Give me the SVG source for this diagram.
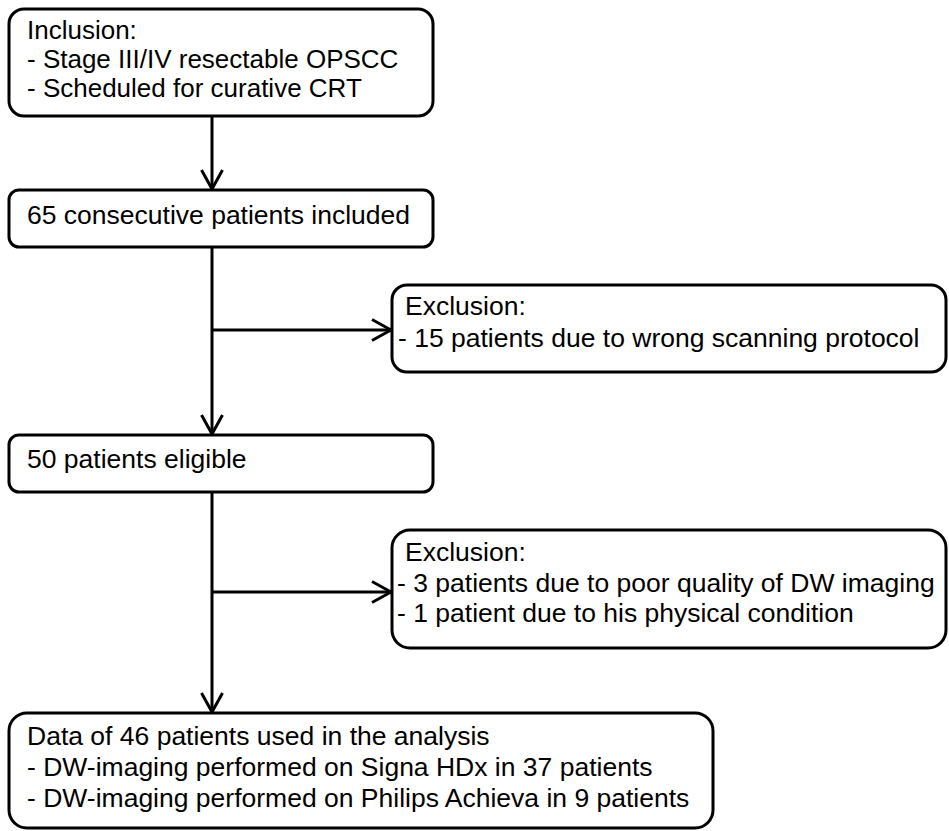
<svg xmlns="http://www.w3.org/2000/svg" width="949" height="831" viewBox="0 0 949 831">
<defs>
<style>
.box{fill:#fff;stroke:#000;stroke-width:3}
.t{font-family:"Liberation Sans",Arial,sans-serif;font-size:26.5px;fill:#000}
.t1{font-size:26px}
.c{fill:none;stroke:#000;stroke-width:3}
</style>
<marker id="arr" viewBox="0 0 24 24" markerWidth="24" markerHeight="24" refX="21" refY="12" orient="auto" markerUnits="userSpaceOnUse">
<path d="M2,1.5 L21,12 L2,22.5" fill="none" stroke="#000" stroke-width="3"/>
</marker>
</defs>
<rect width="949" height="831" fill="#fff"/>
<g id="connectors">
<line class="c" x1="212" y1="117" x2="212" y2="189" marker-end="url(#arr)"/>
<line class="c" x1="212" y1="247" x2="212" y2="434" marker-end="url(#arr)"/>
<line class="c" x1="212" y1="330" x2="391" y2="330" marker-end="url(#arr)"/>
<line class="c" x1="212" y1="492" x2="212" y2="712" marker-end="url(#arr)"/>
<line class="c" x1="212" y1="592" x2="391" y2="592" marker-end="url(#arr)"/>
</g>
<g id="inclusion">
<rect class="box" x="9" y="9" width="424" height="107" rx="15"/>
<text class="t t1" x="27" y="39">Inclusion:</text>
<text class="t t1" x="27" y="68">- Stage III/IV resectable OPSCC</text>
<text class="t t1" x="27" y="97">- Scheduled for curative CRT</text>
</g>
<g id="included">
<rect class="box" x="9" y="190" width="424" height="57" rx="10"/>
<text class="t" x="27" y="224">65 consecutive patients included</text>
</g>
<g id="exclusion1">
<rect class="box" x="392" y="285" width="554" height="87" rx="15"/>
<text class="t" x="405" y="315">Exclusion:</text>
<text class="t" x="398" y="347">- 15 patients due to wrong scanning protocol</text>
</g>
<g id="eligible">
<rect class="box" x="9" y="435" width="424" height="57" rx="10"/>
<text class="t" x="27" y="468">50 patients eligible</text>
</g>
<g id="exclusion2">
<rect class="box" x="392" y="530" width="554" height="118" rx="18"/>
<text class="t" x="405" y="561">Exclusion:</text>
<text class="t" x="397" y="592">- 3 patients due to poor quality of DW imaging</text>
<text class="t" x="397" y="622">- 1 patient due to his physical condition</text>
</g>
<g id="analysis">
<rect class="box" x="9" y="713" width="704" height="115" rx="18"/>
<text class="t" x="27" y="745">Data of 46 patients used in the analysis</text>
<text class="t" x="27" y="776">- DW-imaging performed on Signa HDx in 37 patients</text>
<text class="t" x="27" y="807">- DW-imaging performed on Philips Achieva in 9 patients</text>
</g>
</svg>
